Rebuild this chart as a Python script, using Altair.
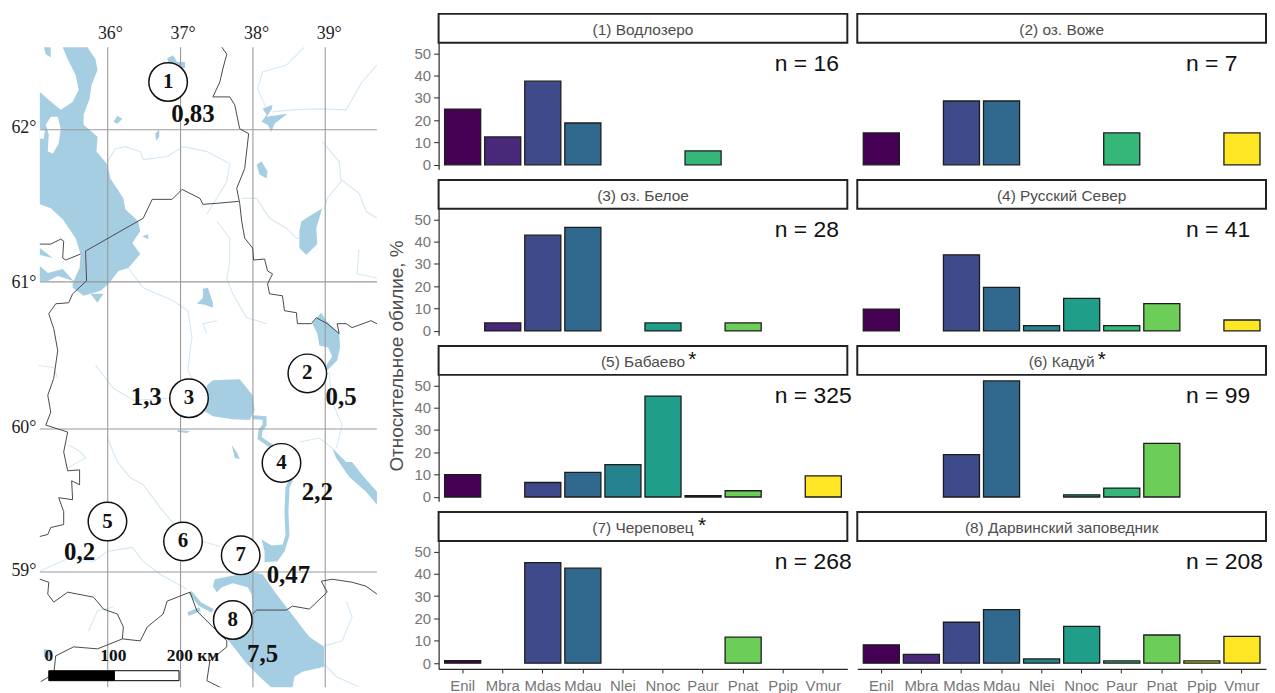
import altair as alt
import pandas as pd

SPECIES = ["Enil", "Mbra", "Mdas", "Mdau", "Nlei", "Nnoc", "Paur", "Pnat", "Ppip", "Vmur"]
COLORS = ["#440154", "#482878", "#3E4A89", "#31688E", "#26828E",
          "#1F9E89", "#35B779", "#6DCD59", "#B4DE2C", "#FDE725"]

V1 = [25, 12.5, 37.5, 18.75, 0, 0, 6.25, 0, 0, 0]
V2 = [14.3, 0, 28.6, 28.6, 0, 0, 14.3, 0, 0, 14.3]
V3 = [0, 3.6, 42.9, 46.4, 0, 3.6, 0, 3.6, 0, 0]
V4 = [9.8, 0, 34.1, 19.5, 2.4, 14.6, 2.4, 12.2, 0, 4.9]
V5 = [10, 0, 6.5, 11, 14.5, 45.2, 0.6, 2.8, 0, 9.5]
V6 = [0, 0, 19, 52, 0, 1, 4, 24, 0, 0]
V7 = [1.1, 0, 45, 42.5, 0, 0, 0, 11.6, 0, 0]
V8 = [8.2, 3.9, 18.3, 24, 1.9, 16.5, 1.0, 12.6, 1.0, 12]
VALUES = [V1, V2, V3, V4, V5, V6, V7, V8]
TITLES = ["(1) Водлозеро", "(2) оз. Воже", "(3) оз. Белое", "(4) Русский Север",
          "(5) Бабаево", "(6) Кадуй", "(7) Череповец", "(8) Дарвинский заповедник"]
COUNTS = ["n = 16", "n = 7", "n = 28", "n = 41", "n = 325", "n = 99", "n = 268", "n = 208"]
STARS = {4: 255, 5: 246, 6: 265}

GREY_TXT = "#767676"
DARK = "#262626"

# ---- map geometry (map units, north at the top) ----
LAKES = [
    [(62,45),(87,45),(95,57),(97,68),(91,83),(89,97),(83,113),(83,123),(97,135),(96,150),(107,163),(110,177),(123,197),(125,208),(138,220),(140,230),(132,242),(140,253),(128,267),(118,270),(108,283),(100,290),(83,295),(72,287),(72,282),(79,267),(80,253),(75,237),(62,218),(50,207),(39,203),(39,90),(47,97),(60,108),(72,100),(78,88),(75,73),(67,57)],
    [(90,293),(103,293),(97,302)],
    [(167,56),(173,53),(177,60),(185,60),(185,66),(178,68),(170,66)],
    [(113,120),(117,114),(122,117),(117,122)],
    [(155,132),(159,128),(159,135),(156,139)],
    [(263,107),(273,103),(272,108),(267,115),(288,112),(275,122),(272,130),(268,123),(262,120),(267,113)],
    [(257,163),(262,160),(268,170),(267,177),(260,173)],
    [(302,220),(323,207),(317,227),(318,243),(307,254),(300,247),(300,230)],
    [(142,235),(148,233),(148,238)],
    [(203,288),(208,287),(213,302),(213,307),(205,304),(197,303),(203,297)],
    [(39,247),(52,257),(39,254)],
    [(39,265),(47,272),(62,268),(73,280),(57,275),(47,280),(39,280)],
    [(43,45),(50,45),(50,55),(45,52)],
    [(315,320),(322,312),(327,320),(340,333),(341,347),(338,360),(328,370),(327,365),(333,356),(329,347),(320,345),(318,333),(313,323)],
    [(207,385),(213,380),(240,379),(253,395),(255,410),(250,420),(233,419),(213,416),(203,410)],
    [(177,430),(190,431),(187,433),(178,432)],
    [(232,445),(237,452),(240,459),(235,458)],
    [(333,448),(347,462),(353,462),(363,475),(378,492),(378,505),(367,492),(350,477),(337,458)],
    [(215,580),(230,577),(253,573),(263,575),(277,595),(290,612),(310,638),(325,648),(325,668),(303,673),(295,678),(293,690),(273,690),(260,678),(247,665),(230,643),(223,635),(253,622),(252,595),(248,588),(233,584),(222,588),(217,593),(213,587)],
    [(43,650),(50,652),(48,660),(43,658)],
    [(262,540),(272,546),(283,545),(285,552),(278,562),(265,563),(265,552)],
]
ISLANDS = [
    [(50,115),(57,115),(60,127),(58,142),(52,152),(47,150),(48,133),(45,123)],
    [(39,127),(44,128),(43,137),(39,137)],
]
CHANNELS = [
    [(253,417),(265,418),(265,425),(261,430),(260,438),(270,445),(280,450),(295,472),(288,488),(287,512),(288,536),(283,552)],
    [(190,593),(200,605),(213,612)],
    [(188,615),(200,610)],
]
RIVERS = [
    [(107,160),(115,147),(125,145),(140,150),(143,158),(167,155),(183,145),(207,150),(230,162),(227,180),(215,200),(207,213)],
    [(378,63),(363,80),(347,108),(320,107),(293,108),(273,110)],
    [(305,45),(287,63),(263,70),(258,87),(267,107)],
    [(323,140),(340,160),(342,180),(328,197),(325,208)],
    [(342,178),(360,192),(367,210),(378,217)],
    [(242,197),(257,197),(270,217),(287,227),(297,237),(302,237)],
    [(217,220),(230,237),(230,260),(227,277),(233,293),(247,317),(267,323)],
    [(128,267),(143,287),(173,300),(188,310),(192,337),(190,350),(188,370),(195,385)],
    [(207,333),(203,323),(217,320)],
    [(360,248),(358,273),(378,277)],
    [(107,438),(117,462),(130,478),(143,485),(160,508),(177,528),(203,542),(220,547)],
    [(95,365),(113,388),(133,400),(170,398)],
    [(330,372),(333,402),(343,425),(337,448)],
    [(300,442),(320,438),(333,448)],
    [(39,572),(70,558),(93,562),(107,552),(132,548),(143,562),(160,575),(187,590)],
    [(68,445),(80,452),(85,458),(67,468)],
    [(88,632),(97,612),(113,608)],
    [(325,665),(337,678),(360,688)],
    [(347,602),(353,618),(343,642),(325,647)],
    [(38,365),(53,367),(57,378)],
]
BORDERS = [
    [(222,45),(227,52),(223,67),(220,80),(213,95),(230,95),(235,103),(240,127),(249,132),(245,167),(237,187),(240,202),(242,220),(245,237),(253,247),(254,259),(265,258),(268,270),(273,273),(268,283),(270,293),(283,295),(285,310),(297,312),(298,323),(312,323),(317,317),(328,323),(340,333),(338,323),(347,323),(353,327),(372,320),(378,323)],
    [(239,200),(217,202),(203,203),(200,197),(182,188),(172,198),(152,198),(143,217),(85,250),(86,280),(72,293),(68,302),(55,303),(48,313),(53,328),(57,350),(53,378),(47,395),(50,412),(45,425),(67,432),(63,452),(67,471),(79,470),(79,485),(71,481),(72,500),(58,498),(63,512),(63,525),(50,528),(47,535),(39,537)],
    [(39,243),(50,243),(60,238),(63,240),(62,257),(65,259),(80,253)],
    [(39,580),(48,583),(47,595),(53,603),(67,593),(93,598),(103,610),(117,615),(123,628),(122,640),(140,642),(147,628),(163,615),(167,602),(190,593),(197,612),(205,620),(227,642),(227,648),(210,662),(207,682),(223,690)],
    [(122,640),(97,650),(73,648),(55,657),(53,675),(40,683)],
    [(253,615),(257,611),(287,611),(293,607),(310,610),(328,593),(322,582),(333,580),(353,583),(367,587),(378,595)],
]
MERIDIANS = [107.3, 180.5, 253.3, 326]
PARALLELS = [128, 281, 429, 572.7]
LON_LABELS = ["36°", "37°", "38°", "39°"]
LAT_LABELS = ["62°", "61°", "60°", "59°"]
LON_LABEL_X = [110, 183, 257, 330]
LAT_LABEL_Y = [126, 282, 428, 572]
GRID_X = (39, 378)
GRID_Y = (45, 690)
SITE_X = [168, 308, 189, 282, 107, 183, 241, 233]
SITE_Y = [80, 373, 398, 463, 522, 542, 556, 621]
SITE_N = ["1", "2", "3", "4", "5", "6", "7", "8"]
VAL_X = [193, 342, 146, 318, 79, 289, 263]
VAL_Y = [112, 397, 397, 492, 553, 576, 655]
VAL_T = ["0,83", "0,5", "1,3", "2,2", "0,2", "0,47", "7,5"]
BAR_BLACK = [(48, 672), (114, 672), (114, 682), (48, 682)]
BAR_WHITE = [(114, 672), (179, 672), (179, 682), (114, 682)]
BAR_X = [48, 113, 193]
BAR_T = ["0", "100", "200 км"]


def polys(rings):
    feats = [{"type": "Feature", "properties": {},
              "geometry": {"type": "Polygon", "coordinates": [[list(p) for p in r] + [list(r[0])]]}} for r in rings]
    return alt.Data(values={"type": "FeatureCollection", "features": feats},
                    format=alt.DataFormat(property="features"))


def lines(paths):
    feats = [{"type": "Feature", "properties": {},
              "geometry": {"type": "LineString", "coordinates": [list(p) for p in r]}} for r in paths]
    return alt.Data(values={"type": "FeatureCollection", "features": feats},
                    format=alt.DataFormat(property="features"))


PROJ = dict(type="identity", scale=1, translate=[-7, -11.5])
WATER = "#A6CEE3"


def fill_layer(rings, color, stroke=None, sw=0):
    kw = {"stroke": stroke, "strokeWidth": sw} if stroke else {"strokeWidth": 0}
    return alt.Chart(polys(rings)).mark_geoshape(fill=color, **kw).project(**PROJ)


def line_layer(paths, color, sw):
    return alt.Chart(lines(paths)).mark_geoshape(filled=False, stroke=color, strokeWidth=sw).project(**PROJ)


def text_layer(xs, ys, ts, size, bold=False, color="#111111", angle=None, font="Liberation Serif"):
    kw = {"angle": angle} if angle is not None else {}
    df = pd.DataFrame({"x": xs, "y": ys, "t": ts})
    return (alt.Chart(df)
            .mark_text(font=font, fontSize=size, fontWeight="bold" if bold else "normal",
                       color=color, align="center", baseline="middle", **kw)
            .encode(longitude="x:Q", latitude="y:Q", text="t:N")
            .project(**PROJ))


grid_paths = [[(x, GRID_Y[0]), (x, GRID_Y[1])] for x in MERIDIANS] + \
             [[(GRID_X[0], y), (GRID_X[1], y)] for y in PARALLELS]
sites = (alt.Chart(pd.DataFrame({"x": SITE_X, "y": SITE_Y}))
         .mark_point(shape="circle", filled=True, fill="white", stroke="#111111", strokeWidth=1.5,
                     size=1500, opacity=1)
         .encode(longitude="x:Q", latitude="y:Q")
         .project(**PROJ))

map_chart = alt.layer(
    line_layer(RIVERS, "#D5E8F4", 1.1),
    fill_layer(LAKES, WATER),
    fill_layer(ISLANDS, "white"),
    line_layer(CHANNELS, WATER, 4),
    line_layer(grid_paths, "#9a9a9a", 1.1),
    line_layer(BORDERS, "#4a4a4a", 1),
    sites,
    text_layer(SITE_X, SITE_Y, SITE_N, 21, bold=True),
    text_layer(VAL_X, VAL_Y, VAL_T, 25, bold=True),
    text_layer(LON_LABEL_X, [32] * 4, LON_LABELS, 18, color="#222222"),
    text_layer([23] * 4, LAT_LABEL_Y, LAT_LABELS, 18, color="#222222"),
    fill_layer([BAR_BLACK], "black", "black", 1),
    fill_layer([BAR_WHITE], "white", "black", 1),
    text_layer(BAR_X, [657] * 3, BAR_T, 17.5, bold=True),
    text_layer([398.5], [355.5], ["Относительное обилие, %"], 19, color="#4d4d4d", angle=270,
               font="Liberation Sans"),
).properties(width=400, height=677)

Y_DOMAIN = [-1.95, 54.7]
Y_DOMAIN_BOTTOM = [-2.6, 54.7]
CELL_W = 411
PANEL_H = 127.2
PANEL_H_BOTTOM = 128.7
STRIP_H = 29
GAP_H = 10
N_X = {0: 338, 1: 330.5}


def strip(i):
    base = alt.Chart(pd.DataFrame({"t": [TITLES[i]]}))
    layers = [base.mark_text(font="Liberation Sans", fontSize=15.5, color="#4d4d4d")
              .encode(x=alt.value(CELL_W / 2), y=alt.value(16), text="t:N")]
    if i in STARS:
        layers.append(alt.Chart(pd.DataFrame({"t": ["*"]}))
                      .mark_text(font="Liberation Sans", fontSize=21, color="#111111")
                      .encode(x=alt.value(STARS[i]), y=alt.value(14), text="t:N"))
    return alt.layer(*layers).properties(
        width=CELL_W, height=STRIP_H,
        view=alt.ViewBackground(stroke="#222222", strokeWidth=2, fill="white"))


def panel(i):
    df = pd.DataFrame({"sp": SPECIES, "v": VALUES[i]})
    df = df[df.v > 0]
    left = i % 2 == 0
    bottom = i >= 6
    x_axis = alt.Axis(title=None, labelAngle=0, labelFont="Liberation Sans", labelFontSize=15,
                      labelColor=GREY_TXT, tickColor=DARK, tickSize=4, domainColor=DARK,
                      domainWidth=1.2, labelOverlap=False, labelPadding=5.5, grid=False,
                      labelBound=False, labelFlush=False) if bottom else None
    y_axis = alt.Axis(title=None, values=[0, 10, 20, 30, 40, 50], labelFont="Liberation Sans",
                      labelFontSize=15, labelColor=GREY_TXT, tickColor=DARK, tickSize=5,
                      domainColor=DARK, domainWidth=1.2, labelPadding=3, grid=False,
                      labelOverlap=False, labelBound=False, labelFlush=False) if left else None
    bars = alt.Chart(df).mark_bar(stroke="#1c1c1c", strokeWidth=1.3).encode(
        x=alt.X("sp:N", sort=SPECIES, axis=x_axis,
                scale=alt.Scale(domain=SPECIES, paddingInner=0.1, paddingOuter=0.15)),
        y=alt.Y("v:Q", axis=y_axis,
                scale=alt.Scale(domain=Y_DOMAIN_BOTTOM if bottom else Y_DOMAIN, nice=False, zero=False)),
        y2=alt.datum(0),
        color=alt.Color("sp:N", legend=None, scale=alt.Scale(domain=SPECIES, range=COLORS)),
    )
    n = alt.Chart(pd.DataFrame({"t": [COUNTS[i]]})).mark_text(
        font="Liberation Sans", fontSize=23, color="#111111", align="left", baseline="alphabetic"
    ).encode(x=alt.value(N_X[i % 2]), y=alt.value(28.5), text="t:N")
    return alt.layer(bars, n).properties(width=CELL_W, height=PANEL_H_BOTTOM if bottom else PANEL_H)


def gap():
    return alt.Chart(pd.DataFrame({"t": [""]})).mark_text().encode(
        x=alt.value(0), y=alt.value(0), text="t:N").properties(width=CELL_W, height=GAP_H)


cells = []
for r in range(0, 8, 2):
    cells += [strip(r), strip(r + 1), panel(r), panel(r + 1)]
    if r < 6:
        cells += [gap(), gap()]

grid = alt.concat(*cells, columns=2, spacing={"row": 0, "column": 10}, bounds="flush")

chart = (alt.hconcat(map_chart, grid, spacing=8)
         .properties(padding={"left": 0, "top": 3, "right": 0, "bottom": 0}, background="white")
         .configure_view(strokeWidth=0))

chart.save("out.html", embed_options={"renderer": "svg", "actions": False})
